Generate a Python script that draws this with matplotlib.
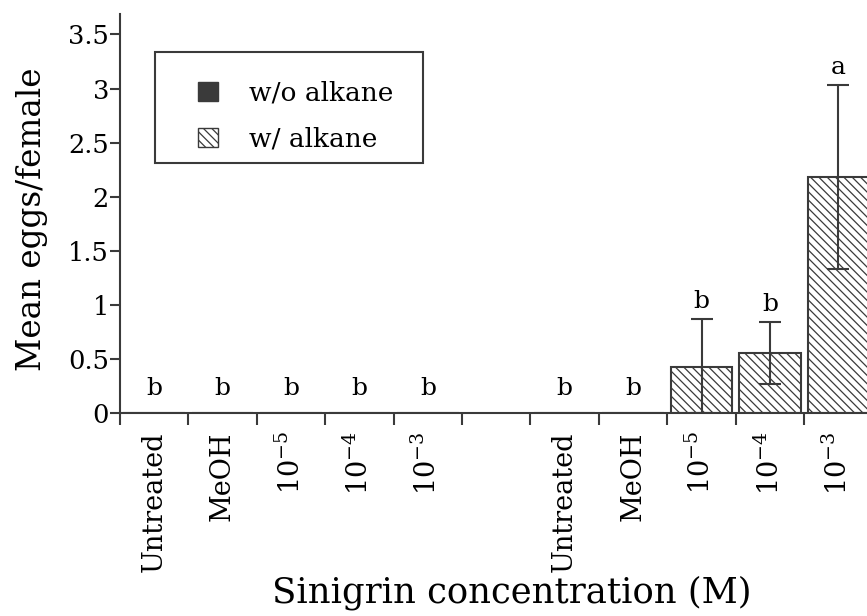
import numpy as np
import matplotlib
matplotlib.use("Agg")
import matplotlib.pyplot as plt
from matplotlib.patches import Patch, Rectangle

plt.rcParams['font.family'] = ['DejaVu Serif']
plt.rcParams['mathtext.fontset'] = 'custom'
plt.rcParams['mathtext.rm'] = 'DejaVu Serif'
plt.rcParams['hatch.color'] = '#444444'
plt.rcParams['hatch.linewidth'] = 0.9

# data
labels = ['Untreated', 'MeOH', r'10$^{-5}$', r'10$^{-4}$', r'10$^{-3}$']
wo_alkane = [0, 0, 0, 0, 0]
wo_err = [0, 0, 0, 0, 0]
wo_letters = ['b', 'b', 'b', 'b', 'b']
w_alkane = [0, 0, 0.43, 0.555, 2.18]
w_err = [0, 0, 0.44, 0.29, 0.85]
w_letters = ['b', 'b', 'b', 'b', 'a']

ink = '#3a3a3a'
fig = plt.figure(figsize=(8.67, 6.16), dpi=100)
ax = fig.add_axes([0.1384, 0.3295, 0.868, 0.648])

x1 = np.arange(len(labels)) + 0.5
x2 = np.arange(len(labels)) + 6.5
bw = 0.9

ax.bar(x1, wo_alkane, bw, color=ink, edgecolor=ink, linewidth=1.5)
ax.bar(x2, w_alkane, bw, color='white', edgecolor=ink, linewidth=1.5, hatch='\\\\\\\\')
for xs, ys, es in [(x1, wo_alkane, wo_err), (x2, w_alkane, w_err)]:
    for x, y, e in zip(xs, ys, es):
        if e > 0:
            ax.errorbar(x, y, yerr=[[min(e, y)], [e]], fmt='none', ecolor=ink,
                        elinewidth=1.5, capsize=8, capthick=1.5)

for xs, ys, es, lets in [(x1, wo_alkane, wo_err, wo_letters), (x2, w_alkane, w_err, w_letters)]:
    for x, y, e, t in zip(xs, ys, es, lets):
        ax.text(x, max(y + e + 0.16, 0.23), t, ha='center', va='center', fontsize=18, color='black')

ax.set_xlim(0, 11)
ax.set_ylim(0, 3.69)
ax.spines['top'].set_visible(False)
ax.spines['right'].set_visible(False)
for s in ['left', 'bottom']:
    ax.spines[s].set_color(ink)
    ax.spines[s].set_linewidth(1.5)

ax.set_yticks([0, 0.5, 1, 1.5, 2, 2.5, 3, 3.5])
ax.set_yticklabels(['0', '0.5', '1', '1.5', '2', '2.5', '3', '3.5'])
ax.tick_params(axis='y', direction='out', length=7, width=1.5, color=ink,
               labelsize=18.5, pad=1)

ax.set_xticks(np.arange(0, 11))
ax.set_xticklabels([])
ax.tick_params(axis='x', which='major', direction='out', length=8.5, width=1.5, color=ink)
ax.set_xticks(np.concatenate([x1, x2]), minor=True)
ax.set_xticklabels(labels + labels, minor=True, rotation=90, fontsize=19.5)
ax.tick_params(axis='x', which='minor', length=0, pad=13)

ax.set_ylabel('Mean eggs/female', fontsize=23.5)
ax.yaxis.set_label_coords(-0.095, 0.486)
ax.set_xlabel('Sinigrin concentration (M)', fontsize=25.5, va='center')
ax.xaxis.set_label_coords(0.521, -0.449)

handles = [Patch(facecolor=ink, edgecolor=ink),
           Patch(facecolor='white', edgecolor=ink, hatch='\\\\\\\\')]
leg = ax.legend(handles, ['w/o alkane', 'w/ alkane'], loc='upper left',
                bbox_to_anchor=(0.104, 0.833), fontsize=19, frameon=False,
                borderpad=0, labelspacing=0.8,
                handlelength=0.76, handleheight=0.76, handletextpad=1.15,
                borderaxespad=0)
ax.add_patch(Rectangle((0.0465, 0.627), 0.356, 0.278, transform=ax.transAxes,
                       fill=False, edgecolor=ink, linewidth=1.5, zorder=5))

fig.savefig('out.png', dpi=100)
